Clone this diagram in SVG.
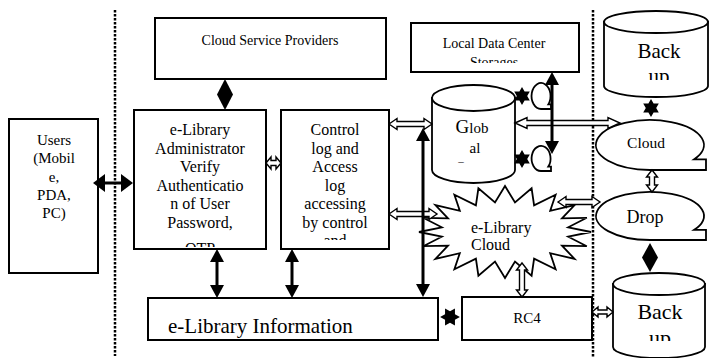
<svg xmlns="http://www.w3.org/2000/svg" width="710" height="358" viewBox="0 0 710 358">
<style>
.box{fill:#fff;stroke:#000;stroke-width:2}
.shp{fill:#fff;stroke:#000;stroke-width:1.8}
.t{font-family:"Liberation Serif","Times New Roman",serif;fill:#000;text-anchor:middle}
.sep{stroke:#000;stroke-width:2.5;stroke-dasharray:2.5 1.5;fill:none}
.hol{fill:#fff;stroke:#000;stroke-width:1.4;stroke-linejoin:miter}
.sol{stroke:#000;stroke-width:3;fill:none}
.blk{fill:#000;stroke:none}
</style>
<defs>
<marker id="ah" viewBox="0 0 13 14" refX="0" refY="7" markerWidth="13" markerHeight="14" markerUnits="userSpaceOnUse" orient="auto-start-reverse"><path d="M0,0 L13,7 L0,14 Z" fill="#000"/></marker>
<marker id="ahB" viewBox="0 0 12 18" refX="0" refY="9" markerWidth="12" markerHeight="18" markerUnits="userSpaceOnUse" orient="auto-start-reverse"><path d="M0,0 L12,9 L0,18 Z" fill="#000"/></marker>
<polygon id="star" points="0,-9 2.6,-4.5 7.79,-4.5 5.2,0 7.79,4.5 2.6,4.5 0,9 -2.6,4.5 -7.79,4.5 -5.2,0 -7.79,-4.5 -2.6,-4.5"/>
<clipPath id="cAdmin"><rect x="134" y="110" width="132" height="137"/></clipPath>
<clipPath id="cCtrl"><rect x="281" y="110" width="108" height="130"/></clipPath>
<clipPath id="cLDC"><rect x="411" y="23" width="168" height="40"/></clipPath>
<clipPath id="cBT"><rect x="604" y="10" width="104" height="70"/></clipPath>
<clipPath id="cBB"><rect x="613" y="270" width="92" height="71"/></clipPath>
</defs>

<g id="separators">
<line class="sep" x1="115" y1="10" x2="115" y2="356"/>
<line class="sep" x1="593" y1="10" x2="593" y2="358"/>
</g>

<g id="users">
<rect class="box" x="9" y="119" width="89" height="154"/>
<text class="t" font-size="15" x="54" y="145">Users</text>
<text class="t" font-size="15" x="54" y="163">(Mobil</text>
<text class="t" font-size="15" x="54" y="182">e,</text>
<text class="t" font-size="15" x="54" y="200">PDA,</text>
<text class="t" font-size="15" x="54" y="218">PC)</text>
</g>

<g id="cloud-service-providers">
<rect class="box" x="155" y="18" width="231" height="61"/>
<text class="t" font-size="14" x="270" y="45">Cloud Service Providers</text>
</g>

<g id="admin">
<rect class="box" x="134" y="110" width="132" height="139"/>
<g clip-path="url(#cAdmin)">
<text class="t" font-size="16" x="200" y="135">e-Library</text>
<text class="t" font-size="16" x="200" y="153.5">Administrator</text>
<text class="t" font-size="16" x="200" y="172">Verify</text>
<text class="t" font-size="16" x="200" y="190.5">Authenticatio</text>
<text class="t" font-size="16" x="200" y="209">n of User</text>
<text class="t" font-size="16" x="200" y="227.5">Password,</text>
<text class="t" font-size="16" x="200" y="254">OTP</text>
</g>
</g>

<g id="control-log">
<rect class="box" x="281" y="110" width="108" height="139"/>
<g clip-path="url(#cCtrl)">
<text class="t" font-size="16" x="335" y="135">Control</text>
<text class="t" font-size="16" x="335" y="153.5">log and</text>
<text class="t" font-size="16" x="335" y="172">Access</text>
<text class="t" font-size="16" x="335" y="190.5">log</text>
<text class="t" font-size="16" x="335" y="209">accessing</text>
<text class="t" font-size="16" x="335" y="227.5">by control</text>
<text class="t" font-size="16" x="335" y="246">and</text>
</g>
</g>

<g id="library-information">
<rect class="box" x="148" y="298" width="290" height="42"/>
<text class="t" font-size="21" x="168" y="333" style="text-anchor:start">e-Library Information</text>
</g>

<g id="local-data-center">
<rect class="box" x="411" y="23" width="168" height="49"/>
<g clip-path="url(#cLDC)">
<text class="t" font-size="14" x="494" y="48">Local Data Center</text>
<text class="t" font-size="14" x="494" y="67">Storages</text>
</g>
</g>

<g id="global">
<path class="shp" d="M432,98 L432,170 A41.5,13 0 0 0 515,170 L515,98 Z"/>
<ellipse class="shp" cx="473.5" cy="98" rx="41.5" ry="13"/>
<text class="t" font-size="15" x="472" y="133"><tspan font-size="19">G</tspan>lob</text>
<text class="t" font-size="15" x="475" y="153">al</text>
<text class="t" font-size="11" x="461" y="161">_</text>
</g>

<g id="tape-upper">
<path class="shp" d="M541,109 A9.5,13 0 1 1 548.3,104.4 L551,104.4 L551,109 Z"/>
</g>
<g id="tape-lower">
<path class="shp" d="M541,171 A9.5,12.5 0 1 1 548.3,166.6 L551,166.6 L551,171 Z"/>
</g>

<g id="elibrary-cloud">
<polygon class="shp" points="591,232 568.2,236.7 586.8,246.2 562,245.6 574.6,259 550.2,253.2 555.6,269.2 534.1,258.7 531.6,275.7 515,261.6 505,278 495,261.6 478.4,275.7 475.9,258.7 454.4,269.2 459.8,253.2 435.4,259 448,245.6 423.2,246.2 441.8,236.7 419,232 441.8,227.3 423.2,217.8 448,218.4 435.4,205 459.8,210.8 454.4,194.8 475.9,205.3 478.4,188.3 495,202.4 505,186 515,202.4 531.6,188.3 534.1,205.3 555.6,194.8 550.2,210.8 574.6,205 562,218.4 586.8,217.8 568.2,227.3"/>
<text class="t" font-size="16" x="471" y="233" style="text-anchor:start">e-Library</text>
<text class="t" font-size="16" x="471" y="250" style="text-anchor:start">Cloud</text>
</g>

<g id="rc4">
<rect class="box" x="462" y="297" width="130" height="43"/>
<text class="t" font-size="15" x="527" y="323">RC4</text>
</g>

<g id="backup-top">
<path class="shp" d="M604,22 L604,86 A52,11 0 0 0 708,86 L708,22 Z"/>
<ellipse class="shp" cx="656" cy="22" rx="52" ry="11"/>
<g clip-path="url(#cBT)">
<text class="t" font-size="21" x="659" y="58">Back</text>
<text class="t" font-size="21" x="659" y="83">up</text>
</g>
</g>

<g id="cloud">
<path class="shp" d="M650,170 A54,25 0 1 1 694.2,159.3 L706,159.3 L706,170 Z"/>
<text class="t" font-size="15.5" x="646" y="148">Cloud</text>
</g>

<g id="drop">
<path class="shp" d="M650,240 A54,24 0 1 1 694.2,229.8 L706,229.8 L706,240 Z"/>
<text class="t" font-size="18" x="645" y="223">Drop</text>
</g>

<g id="backup-bottom">
<path class="shp" d="M613,284 L613,347 A46,11 0 0 0 705,347 L705,284 Z"/>
<ellipse class="shp" cx="659" cy="284" rx="46" ry="11"/>
<g clip-path="url(#cBB)">
<text class="t" font-size="22" x="660" y="319">Back</text>
<text class="t" font-size="22" x="660" y="345">up</text>
</g>
</g>

<g id="connectors">
<polygon class="hol" points="266,163 271,157 271,160.5 276,160.5 276,157 281,163 276,169 276,165.5 271,165.5 271,169"/>
<polygon class="hol" points="389,124 397,118.5 397,121.5 424,121.5 424,118.5 432,124 424,129.5 424,126.5 397,126.5 397,129.5"/>
<polygon class="hol" points="389,214 397,208.5 397,211.5 429,211.5 429,208.5 437,214 429,219.5 429,216.5 397,216.5 397,219.5"/>
<polygon class="hol" points="515,123 527,117.5 527,120.5 608,120.5 608,117.5 620,123 608,128.5 608,125.5 527,125.5 527,128.5"/>
<polygon class="hol" points="652,170 657.5,177 654.5,177 654.5,185 657.5,185 652,192 646.5,185 649.5,185 649.5,177 646.5,177"/>
<polygon class="hol" points="558,202 566,196.5 566,199.5 592,199.5 592,196.5 600,202 592,207.5 592,204.5 566,204.5 566,207.5"/>
<polygon class="hol" points="522,263 527.5,270 524.5,270 524.5,290 527.5,290 522,297 516.5,290 519.5,290 519.5,270 516.5,270"/>
<polygon class="hol" points="592,312 598,307 598,310 607,310 607,307 613,312 607,317 607,314 598,314 598,317"/>

<line class="sol" x1="105" y1="183" x2="121" y2="183" marker-start="url(#ahB)" marker-end="url(#ahB)"/>
<line class="sol" x1="217" y1="262" x2="217" y2="285" marker-start="url(#ah)" marker-end="url(#ah)"/>
<line class="sol" x1="292" y1="262" x2="292" y2="285" marker-start="url(#ah)" marker-end="url(#ah)"/>
<line class="sol" x1="423" y1="141" x2="423" y2="284" marker-start="url(#ah)" marker-end="url(#ah)"/>
<line class="sol" x1="552" y1="85" x2="552" y2="141" marker-start="url(#ah)" marker-end="url(#ah)"/>

<polygon class="blk" points="225,79 233,94.5 225,110 217,94.5"/>
<polygon class="blk" points="650,243 658,257.5 650,272 642,257.5"/>
<use href="#star" class="blk" transform="translate(522,96)"/>
<use href="#star" class="blk" transform="translate(522,159)"/>
<use href="#star" class="blk" transform="translate(651,108)"/>
<use href="#star" class="blk" transform="translate(450,317) rotate(90) scale(1.1)"/>
</g>
</svg>
